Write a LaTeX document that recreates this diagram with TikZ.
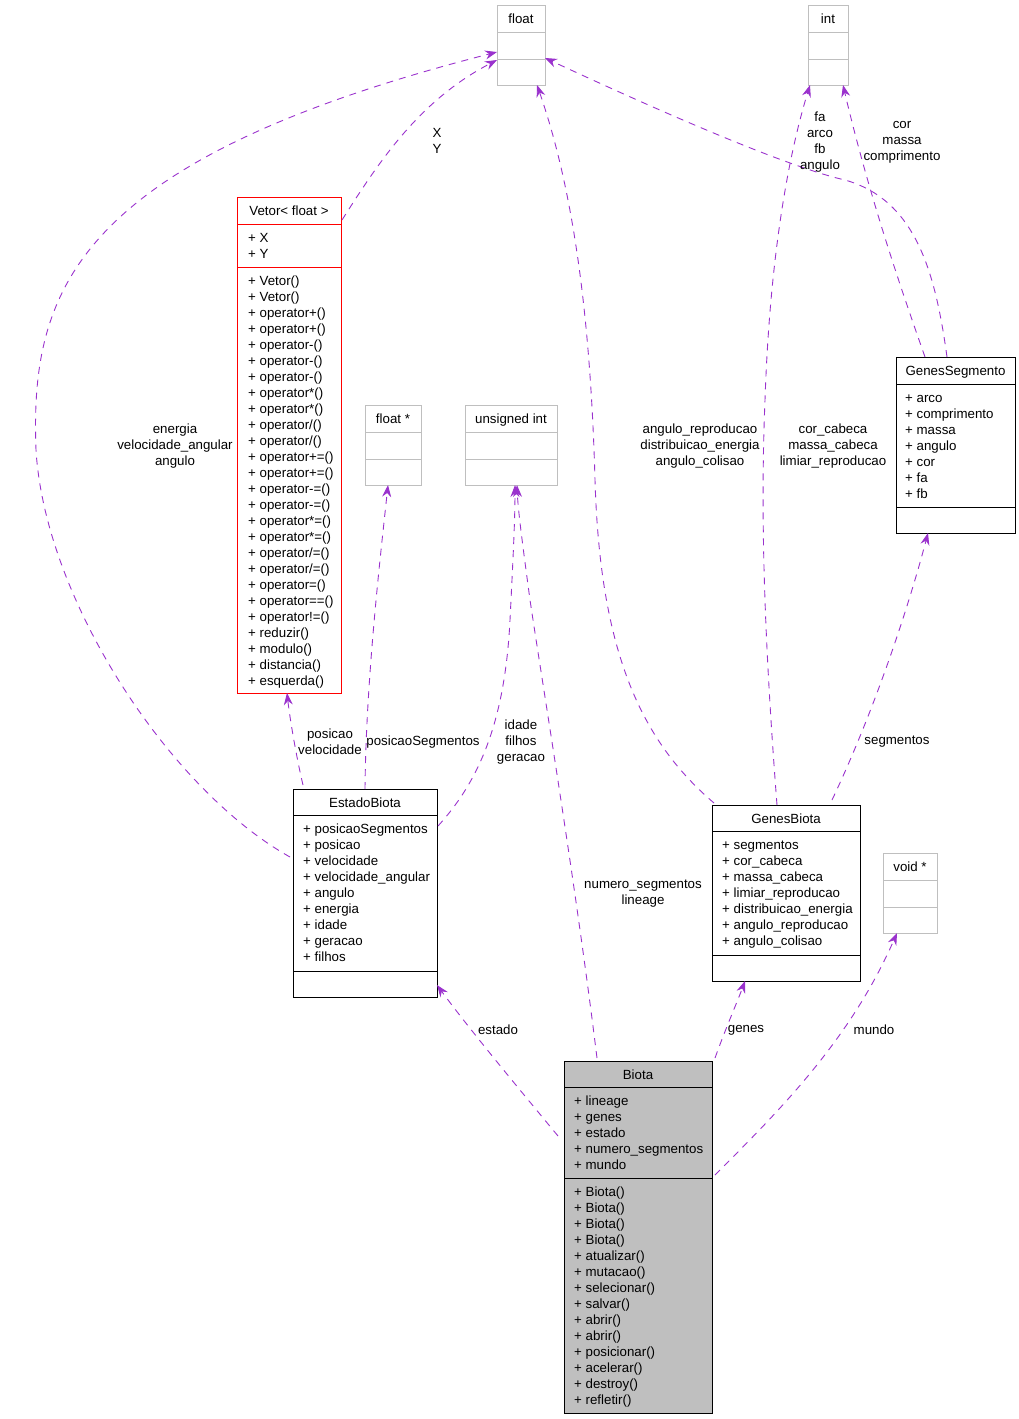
\documentclass[tikz,border=0pt]{standalone}
\usepackage{fontspec}
\setmainfont{Liberation Sans}
\usetikzlibrary{arrows.meta,calc}
\definecolor{edgec}{HTML}{9A32CD}
\definecolor{grayb}{HTML}{BFBFBF}
\definecolor{redb}{HTML}{FF0000}
\newcommand\mkmembers[4]{%
  \foreach \t [count=\i from 0] in {#4}
    \node[mem] (#1\i) at (#2, #3+16*\i) {\t};}
\begin{document}
\begin{tikzpicture}[x=1pt,y=-1pt,
  font=\fontsize{13.3}{16}\selectfont,
  boxk/.style={draw=black, line width=0.9pt, inner sep=0pt, outer sep=0pt, anchor=north west},
  boxg/.style={draw=grayb, line width=0.9pt, inner sep=0pt, outer sep=0pt, anchor=north west},
  boxr/.style={draw=redb, line width=0.9pt, inner sep=0pt, outer sep=0pt, anchor=north west},
  divk/.style={draw=black, line width=0.9pt},
  divg/.style={draw=grayb, line width=0.9pt},
  divr/.style={draw=redb, line width=0.9pt},
  ttl/.style={anchor=base, inner sep=0pt},
  mem/.style={anchor=base west, inner sep=0pt},
  lbl/.style={align=center, inner sep=0pt},
  rel/.style={draw=edgec, line width=0.9pt, dash pattern=on 7pt off 6pt,
    -{Stealth[length=12pt,width=9pt,inset=4pt]}},
]
\useasboundingbox (0,0) rectangle (1019,1419);

% ---------- gray (built-in type) boxes ----------
\node[boxg, minimum width=48pt, minimum height=80pt] (float) at (497,5) {};
\draw[divg] ($(float.north west)+(0,27)$) -- ++(48,0);
\draw[divg] ($(float.north west)+(0,54)$) -- ++(48,0);
\node[ttl] (float-t) at (521,23) {float};

\node[boxg, minimum width=40pt, minimum height=80pt] (int) at (808,5) {};
\draw[divg] ($(int.north west)+(0,27)$) -- ++(40,0);
\draw[divg] ($(int.north west)+(0,54)$) -- ++(40,0);
\node[ttl] (int-t) at (828,23) {int};

\node[boxg, minimum width=56pt, minimum height=80pt] (floatp) at (365,405) {};
\draw[divg] ($(floatp.north west)+(0,27)$) -- ++(56,0);
\draw[divg] ($(floatp.north west)+(0,54)$) -- ++(56,0);
\node[ttl] (floatp-t) at (393,423) {float *};

\node[boxg, minimum width=92pt, minimum height=80pt] (uint) at (465,405) {};
\draw[divg] ($(uint.north west)+(0,27)$) -- ++(92,0);
\draw[divg] ($(uint.north west)+(0,54)$) -- ++(92,0);
\node[ttl] (uint-t) at (511,423) {unsigned int};

\node[boxg, minimum width=54pt, minimum height=80pt] (voidp) at (883,853) {};
\draw[divg] ($(voidp.north west)+(0,27)$) -- ++(54,0);
\draw[divg] ($(voidp.north west)+(0,54)$) -- ++(54,0);
\node[ttl] (voidp-t) at (910,871) {void *};

% ---------- Vetor< float > ----------
\node[boxr, minimum width=104pt, minimum height=496pt] (vetor) at (237,197) {};
\draw[divr] ($(vetor.north west)+(0,27)$) -- ++(104,0);
\draw[divr] ($(vetor.north west)+(0,70)$) -- ++(104,0);
\node[ttl] (vetor-t) at (289,215) {Vetor< float >};
\mkmembers{vetor-a}{248}{242}{+ X,+ Y}
\mkmembers{vetor-m}{248}{285}{+ Vetor(),+ Vetor(),+ operator+(),+ operator+(),+ operator-(),+ operator-(),+ operator-(),+ operator*(),+ operator*(),+ operator/(),+ operator/(),+ operator+=(),+ operator+=(),+ operator-=(),+ operator-=(),+ operator*=(),+ operator*=(),+ operator/=(),+ operator/=(),+ operator=(),+ operator==(),+ operator!=(),+ reduzir(),+ modulo(),+ distancia(),+ esquerda()}

% ---------- GenesSegmento ----------
\node[boxk, minimum width=119pt, minimum height=176pt] (gseg) at (896,357) {};
\draw[divk] ($(gseg.north west)+(0,27)$) -- ++(119,0);
\draw[divk] ($(gseg.north west)+(0,150)$) -- ++(119,0);
\node[ttl] (gseg-t) at (955.5,375) {GenesSegmento};
\mkmembers{gseg-a}{905}{402}{+ arco,+ comprimento,+ massa,+ angulo,+ cor,+ fa,+ fb}

% ---------- EstadoBiota ----------
\node[boxk, minimum width=144pt, minimum height=208pt] (estado) at (293,789) {};
\draw[divk] ($(estado.north west)+(0,26)$) -- ++(144,0);
\draw[divk] ($(estado.north west)+(0,182)$) -- ++(144,0);
\node[ttl] (estado-t) at (365,807) {EstadoBiota};
\mkmembers{estado-a}{303}{833}{+ posicaoSegmentos,+ posicao,+ velocidade,+ velocidade\_angular,+ angulo,+ energia,+ idade,+ geracao,+ filhos}

% ---------- GenesBiota ----------
\node[boxk, minimum width=148pt, minimum height=176pt] (gbiota) at (712,805) {};
\draw[divk] ($(gbiota.north west)+(0,26)$) -- ++(148,0);
\draw[divk] ($(gbiota.north west)+(0,150)$) -- ++(148,0);
\node[ttl] (gbiota-t) at (786,823) {GenesBiota};
\mkmembers{gbiota-a}{722}{849}{+ segmentos,+ cor\_cabeca,+ massa\_cabeca,+ limiar\_reproducao,+ distribuicao\_energia,+ angulo\_reproducao,+ angulo\_colisao}

% ---------- Biota ----------
\node[boxk, fill=grayb, minimum width=148pt, minimum height=352pt] (biota) at (564,1061) {};
\draw[divk] ($(biota.north west)+(0,26)$) -- ++(148,0);
\draw[divk] ($(biota.north west)+(0,117)$) -- ++(148,0);
\node[ttl] (biota-t) at (638,1079) {Biota};
\mkmembers{biota-a}{574}{1105}{+ lineage,+ genes,+ estado,+ numero\_segmentos,+ mundo}
\mkmembers{biota-m}{574}{1196}{+ Biota(),+ Biota(),+ Biota(),+ Biota(),+ atualizar(),+ mutacao(),+ selecionar(),+ salvar(),+ abrir(),+ abrir(),+ posicionar(),+ acelerar(),+ destroy(),+ refletir()}

% ---------- connectors ----------
% EstadoBiota -> float
\draw[rel] ($(estado.north west)+(-3,68)$) .. controls (170,790) and (45,600) .. (36,450)
  .. controls (30,290) and (75,160) .. ($(float.north west)+(0,47)$);
% Vetor -> float
\draw[rel] ($(vetor.north east)+(1,23)$) .. controls (380,160) and (420,100) .. ($(float.north west)+(0,55)$);
% GenesBiota -> float
\draw[rel] ($(gbiota.north west)+(2,-2)$) .. controls (640,740) and (600,650) .. (595,480)
  .. controls (590,300) and (570,180) .. ($(float.south west)+(40,0)$);
% GenesBiota -> int
\draw[rel] ($(gbiota.north west)+(65,0)$) .. controls (765,650) and (760,520) .. (765,400)
  .. controls (770,250) and (790,150) .. ($(int.south west)+(2,0)$);
% GenesSegmento -> float
\draw[rel] ($(gseg.north west)+(51,0)$) .. controls (935,270) and (915,200) .. (845,180)
  .. controls (800,170) and (700,130) .. ($(float.north east)+(0,53)$);
% GenesSegmento -> int
\draw[rel] ($(gseg.north west)+(29,0)$) .. controls (905,300) and (870,200) .. ($(int.south east)+(-5,0)$);
% EstadoBiota -> Vetor
\draw[rel] ($(estado.north west)+(10,-4)$) .. controls (297,760) and (290,720) .. ($(vetor.south west)+(50,0)$);
% EstadoBiota -> float *
\draw[rel] ($(estado.north west)+(72,0)$) .. controls (366,680) and (380,560) .. ($(floatp.south west)+(23,0)$);
% EstadoBiota -> unsigned int
\draw[rel] ($(estado.north east)+(1,37)$) .. controls (480,780) and (505,720) .. (510,620)
  .. controls (513,560) and (515,520) .. ($(uint.south west)+(50,0)$);
% Biota -> unsigned int
\draw[rel] ($(biota.north west)+(33,-3)$) .. controls (575,880) and (545,700) .. (530,600)
  .. controls (522,540) and (518,510) .. ($(uint.south west)+(52,0)$);
% GenesBiota -> GenesSegmento
\draw[rel] ($(gbiota.north west)+(120,-5)$) .. controls (870,720) and (905,620) .. ($(gseg.south west)+(32,0)$);
% Biota -> EstadoBiota
\draw[rel] ($(biota.north west)+(-6,75)$) .. controls (520,1090) and (470,1030) .. ($(estado.south east)+(0,-12)$);
% Biota -> GenesBiota
\draw[rel] ($(biota.north east)+(3,-3)$) .. controls (725,1030) and (738,1000) .. ($(gbiota.south west)+(33,0)$);
% Biota -> void *
\draw[rel] ($(biota.north east)+(3,114)$) .. controls (780,1110) and (850,1040) .. ($(voidp.south west)+(14,0)$);

% ---------- connector labels ----------
\node[lbl] (l-estfloat) at (175,446) {energia\\velocidade\_angular\\angulo};
\node[lbl] (l-vetfloat) at (437,141) {X\\Y};
\node[lbl] (l-gbfloat) at (700,446) {angulo\_reproducao\\distribuicao\_energia\\angulo\_colisao};
\node[lbl] (l-gbint) at (833,446) {cor\_cabeca\\massa\_cabeca\\limiar\_reproducao};
\node[lbl] (l-gsint1) at (820,142) {fa\\arco\\fb\\angulo};
\node[lbl] (l-gsint2) at (902,142) {cor\\massa\\comprimento};
\node[lbl] (l-estvet) at (330,742) {posicao\\velocidade};
\node[lbl] (l-estfp) at (423,742) {posicaoSegmentos};
\node[lbl] (l-estui) at (521,742) {idade\\filhos\\geracao};
\node[lbl] (l-biui) at (643,894) {numero\_segmentos\\lineage};
\node[lbl] (l-gbgs) at (897,742) {segmentos};
\node[lbl] (l-biest) at (498,1030) {estado};
\node[lbl] (l-bigb) at (746,1030) {genes};
\node[lbl] (l-bivoid) at (874,1030) {mundo};
\end{tikzpicture}
\end{document}
